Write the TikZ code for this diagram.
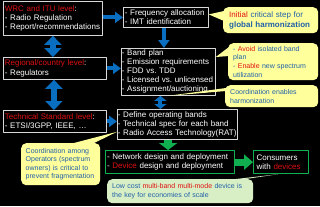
\documentclass[tikz,border=0pt]{standalone}
\usepackage{fontspec}
\setmainfont{Liberation Sans}
\usetikzlibrary{arrows.meta,calc}
\definecolor{arrowblue}{HTML}{0A6EC0}
\definecolor{arrowgreen}{HTML}{10B050}
\definecolor{hotred}{HTML}{E01010}
\definecolor{noteblue}{HTML}{2060A8}
\definecolor{noteyellow}{HTML}{FFFF9C}
\definecolor{notegreen}{HTML}{D8EFC6}
\definecolor{frame}{HTML}{D8D8D8}

\begin{document}
\frenchspacing
\begin{tikzpicture}[x=1pt,y=-1pt,line join=round,
  level/.style={draw=frame,line width=0.8pt,fill=black,text=white,align=left,
    anchor=north west,inner xsep=1.5pt,inner ysep=1pt,font=\fontsize{8}{9.3}\selectfont},
  outcome/.style={level,draw=arrowgreen,line width=1.2pt},
  note/.style={fill=noteyellow,rounded corners=5pt,text=noteblue,align=left,
    anchor=north west,inner xsep=5pt,inner ysep=1pt,font=\fontsize{7}{8.6}\selectfont},
  flow/.style={draw=arrowblue,line width=4pt,-{Triangle[width=11pt,length=8pt]}},
  link/.style={draw=arrowblue,line width=6pt,
    {Triangle[width=17pt,length=9pt]}-{Triangle[width=17pt,length=9pt]}},
  linksmall/.style={draw=arrowblue,line width=4pt,
    {Triangle[width=12pt,length=5pt]}-{Triangle[width=12pt,length=5pt]}},
  deliver/.style={draw=arrowgreen,line width=8pt,-{Triangle[width=18pt,length=7pt]}},
  handover/.style={draw=arrowgreen,line width=7pt,-{Triangle[width=15pt,length=9pt]}}]
  \useasboundingbox (0,0) rectangle (320,206);
  \fill[black] (0,0) rectangle (320,206);

  % regulation levels on the left
  \node[level,text width=96pt,minimum height=34pt] (wrc) at (3,1)
    {{\color{hotred}WRC and ITU level}:\\- Radio Regulation\\- Report/recommendations};
  \node[level,text width=100pt,minimum height=22pt] (reg) at (3,57)
    {{\color{hotred}Regional/country level}:\\- Regulators};
  \node[level,text width=100pt,minimum height=22pt] (tech) at (3,110)
    {{\color{hotred}Technical Standard level}:\\- ETSI/3GPP, IEEE, \dots};

  % tasks in the middle
  \node[level,text width=82pt,minimum height=20pt] (freq) at (123,7)
    {- Frequency allocation\\- IMT identification};
  \node[level,inner xsep=0.5pt,text width=93pt,minimum height=47pt,font=\fontsize{8}{9}\selectfont] (band) at (121,48)
    {- Band plan\\- Emission requirements\\- FDD vs. TDD\\- Licensed vs. unlicensed\\- Assignment/auctioning};
  \node[level,inner xsep=0.5pt,text width=119pt,minimum height=30pt] (spec) at (117,109)
    {- Define operating bands\\- Technical spec for each band\\- Radio Access Technology(RAT)};
  \node[outcome,text width=126pt,minimum height=23pt] (net) at (105,150)
    {- Network design and deployment\\- {\color{hotred}Device} design and deployment};
  \node[outcome,inner xsep=3pt,text width=49pt,minimum height=23pt] (cons) at (253,150)
    {Consumers\\with {\color{hotred}devices}};

  % notes
  \node[note,font=\fontsize{8}{10}\selectfont,inner xsep=6pt,text width=83pt,minimum height=26pt] (initial) at (223,7)
    {{\color{hotred}Initial} critical step for\\\textbf{global harmonization}};
  \node[note,text width=80pt,minimum height=37pt] (avoid) at (228,43)
    {- {\color{hotred}Avoid} isolated band\\plan\\- {\color{hotred}Enable} new spectrum\\utilization};
  \node[note,text width=83pt,minimum height=22pt] (coord) at (225,85)
    {Coordination enables\\harmonization};
  \node[note,inner xsep=4.5pt,text width=70pt,minimum height=42pt] (operators) at (21,143)
    {Coordination among\\Operators (spectrum\\owners) is critical to\\prevent fragmentation};
  \node[note,fill=notegreen,text width=136pt,minimum height=24pt] (scale) at (107,179)
    {Low cost {\color{hotred}multi-band multi-mode} device is\\the key for economies of scale};

  % note pointers
  \fill[noteyellow] ($(initial.north west)+(1,4)$) -- ($(freq.east)+(0,-3)$)
    -- ($(initial.north west)+(1,14)$) -- cycle;
  \fill[noteyellow] ($(avoid.north west)+(1,4)$) -- ($(band.north east)+(0,9)$)
    -- ($(avoid.north west)+(1,13)$) -- cycle;
  \fill[noteyellow] ($(coord.north west)+(1,3)$) -- (band.south)
    -- ($(coord.north west)+(1,6)$) -- cycle;
  \fill[noteyellow] ($(operators.north west)+(49,1)$) -- ($(spec.south west)+(0,-8)$)
    -- ($(operators.north west)+(71,1)$) -- cycle;
  \fill[notegreen] ($(scale.north west)+(120,1)$) -- ($(cons.south)+(-3,0)$)
    -- ($(scale.north west)+(132,1)$) -- cycle;

  % arrows
  \draw[flow] (wrc.east |- freq.west) -- (freq.west);
  \draw[flow] ([xshift=-2pt]freq.south) -- ([xshift=-2pt]freq.south |- band.north);
  \draw[flow] (reg.east) -- (reg.east -| band.west);
  \draw[flow] (tech.east) -- (tech.east -| spec.west);
  \draw[link] (wrc.south) -- (wrc.south |- reg.north);
  \draw[link] ([xshift=-1pt]reg.south) -- ([xshift=-1pt]reg.south |- tech.north);
  \draw[linksmall] ([xshift=-8pt]band.south) -- ([xshift=-8pt]band.south |- spec.north);
  \draw[deliver] ([xshift=-2pt]net.north |- spec.south) -- ([xshift=-2pt]net.north);
  \draw[handover] (net.east) -- (cons.west);
\end{tikzpicture}
\end{document}
